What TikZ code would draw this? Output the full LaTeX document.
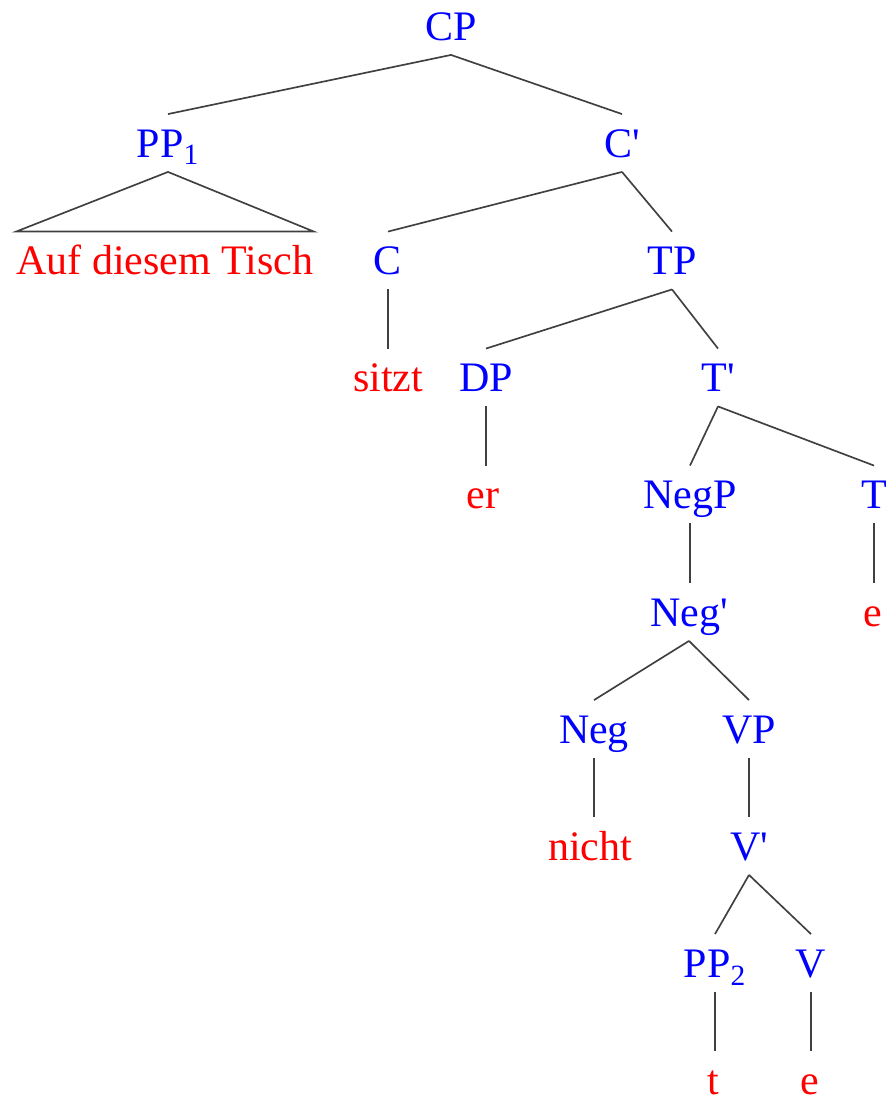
\documentclass[tikz,border=0pt]{standalone}
\usepackage{fontspec}
\setmainfont{Liberation Serif}
\usetikzlibrary{positioning}

\tikzset{
  cat/.style={text=blue, font=\fontsize{31.5}{36}\selectfont, anchor=base,
    text height=21pt, text depth=0pt, inner xsep=0pt, inner ysep=11pt},
  word/.style={cat, text=red},
  branch/.style={draw=black!75, line width=1.25pt},
}

\begin{document}
\begin{tikzpicture}[x=0.75pt, y=-0.75pt]
  \useasboundingbox (0,0) rectangle (888,1103);

  % categories and words, one row per level
  \node[cat]  (cp)     at (451,40)     {CP};
  \node[cat]  (ppone)  at (168,157)    {PP\textsubscript{1}};
  \node[cat]  (cbar)   at (622,157)    {C\textquotesingle};
  \node[word] (auf)    at (165,274.5)  {Auf diesem Tisch};
  \node[cat]  (c)      at (388,274.5)  {C};
  \node[cat]  (tp)     at (672,274.5)  {TP};
  \node[word] (sitzt)  at (388,391.5)  {sitzt};
  \node[cat]  (dp)     at (486,391.5)  {DP};
  \node[cat]  (tbar)   at (718,391.5)  {T\textquotesingle};
  \node[word] (er)     at (483,508.5)  {er};
  \node[cat]  (negp)   at (690,508.5)  {NegP};
  \node[cat]  (tnode)  at (874,508.5)  {T};
  \node[cat]  (negbar) at (689,626)    {Neg\textquotesingle};
  \node[word] (te)     at (873,626)    {e};
  \node[cat]  (neg)    at (594,743)    {Neg};
  \node[cat]  (vp)     at (749,743)    {VP};
  \node[word] (nicht)  at (590,860)    {nicht};
  \node[cat]  (vbar)   at (749,860)    {V\textquotesingle};
  \node[cat]  (pptwo)  at (715,977)    {PP\textsubscript{2}};
  \node[cat]  (v)      at (811,977)    {V};
  \node[word] (trace)  at (713,1094)   {t};
  \node[word] (ve)     at (810,1094)   {e};

  % branches
  \draw[branch] (cp.south) -- (ppone.north);
  \draw[branch] (cp.south) -- (cbar.north);
  \draw[branch] (ppone.south) -- (auf.north west) -- (auf.north east) -- cycle;
  \draw[branch] (cbar.south) -- (c.north);
  \draw[branch] (cbar.south) -- (tp.north);
  \draw[branch] (c.south) -- (c.south |- sitzt.north);
  \draw[branch] (tp.south) -- (dp.north);
  \draw[branch] (tp.south) -- (tbar.north);
  \draw[branch] (dp.south) -- (dp.south |- er.north);
  \draw[branch] (tbar.south) -- (negp.north);
  \draw[branch] (tbar.south) -- (tnode.north);
  \draw[branch] (negp.south) -- (negp.south |- negbar.north);
  \draw[branch] (tnode.south) -- (tnode.south |- te.north);
  \draw[branch] (negbar.south) -- (neg.north);
  \draw[branch] (negbar.south) -- (vp.north);
  \draw[branch] (neg.south) -- (neg.south |- nicht.north);
  \draw[branch] (vp.south) -- (vp.south |- vbar.north);
  \draw[branch] (vbar.south) -- (pptwo.north);
  \draw[branch] (vbar.south) -- (v.north);
  \draw[branch] (pptwo.south) -- (pptwo.south |- trace.north);
  \draw[branch] (v.south) -- (v.south |- ve.north);
\end{tikzpicture}
\end{document}
